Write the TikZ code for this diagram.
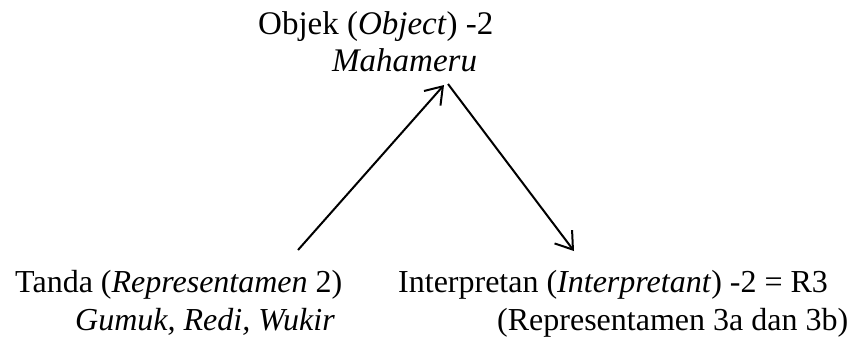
\documentclass[tikz,border=0pt]{standalone}
\usepackage{fontspec}
\setmainfont{Liberation Serif}
\usetikzlibrary{arrows.meta}
\tikzset{
  label text/.style={anchor=base west, inner sep=0pt, font=\fontsize{32}{38}\selectfont},
  top text/.style={label text, font=\fontsize{33}{39}\selectfont},
  link/.style={line width=2pt, -{Straight Barb[length=16pt, width=22pt, line width=2pt]}}
}
\begin{document}
\begin{tikzpicture}[x=1pt, y=-1pt]
\useasboundingbox (0,0) rectangle (853,338);
% object (top)
\node[top text] (obj1) at (258,34) {Objek (\textit{Object}) -2};
\node[top text] (obj2) at (332,71) {\textit{Mahameru}};
% sign (bottom left)
\node[label text] (sign1) at (15,292) {Tanda (\textit{Representamen} 2)};
\node[label text] (sign2) at (75,330) {\textit{Gumuk, Redi, Wukir}};
% interpretant (bottom right)
\node[label text] (int1) at (398,292) {Interpretan (\textit{Interpretant}) -2 = R3};
\node[label text] (int2) at (497,330) {(Representamen 3a dan 3b)};
% connector end points
\coordinate (signTop) at (298,250);
\coordinate (apexIn) at (444,85);
\coordinate (apexOut) at (448,84);
\coordinate (intTop) at (574,251);
\draw[link] (signTop) -- (apexIn);
\draw[link] (apexOut) -- (intTop);
\end{tikzpicture}
\end{document}
